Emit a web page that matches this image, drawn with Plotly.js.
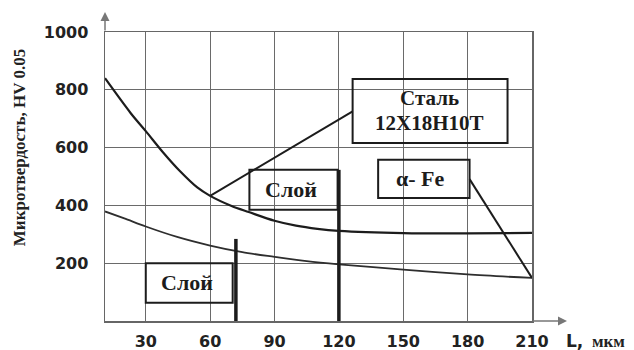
<!DOCTYPE html>
<html>
<head>
<meta charset="utf-8">
<script src="https://cdn.plot.ly/plotly-3.0.1.min.js"></script>
<style>html,body{margin:0;padding:0;background:#fff;}#chart{width:634px;height:350px;}</style>
</head>
<body>
<div id="chart"></div>
<script>
// Distance from surface, µm
const xUpper = [11, 23, 30, 38, 46, 54, 60, 70, 78, 90, 100, 110, 120, 150, 180, 210];
// Microhardness, HV 0.05 – upper curve (layer on steel 12Х18Н10Т)
const hvUpper = [840, 719, 657, 584, 518, 462, 433, 398, 377, 347, 330, 319, 312, 304, 303, 305];
const xLower = [11, 20, 30, 45, 60, 75, 90, 105, 120, 150, 180, 210];
// Microhardness, HV 0.05 – lower curve (layer on α-Fe)
const hvLower = [379, 355, 327, 290, 261, 238, 222, 207, 196, 178, 161, 149];
// Layer thickness markers (x, top of marker)
const layerX = [72, 120];
const layerTop = [284, 523];
// Tick labels
const xTicks = [30, 60, 90, 120, 150, 180, 210];
const yTicks = [200, 400, 600, 800, 1000];
// Leader lines from labels to curves
const leaderSteelX = [60, 126.4];
const leaderSteelY = [433, 725];
const leaderFeX = [180.9, 210];
const leaderFeY = [491, 149];

const ink = '#1c1c1c';
const traces = [
  {x: xUpper, y: hvUpper, mode: 'lines', line: {color: ink, width: 2.2, shape: 'spline', smoothing: 0.9}, hoverinfo: 'skip'},
  {x: xLower, y: hvLower, mode: 'lines', line: {color: '#2e2e2e', width: 1.8, shape: 'spline', smoothing: 0.8}, hoverinfo: 'skip'},
  {x: [layerX[0], layerX[0]], y: [0, layerTop[0]], mode: 'lines', line: {color: ink, width: 3.5}, hoverinfo: 'skip'},
  {x: [layerX[1], layerX[1]], y: [0, layerTop[1]], mode: 'lines', line: {color: ink, width: 3.5}, hoverinfo: 'skip'},
  {x: leaderSteelX, y: leaderSteelY, mode: 'lines', line: {color: ink, width: 2}, hoverinfo: 'skip'},
  {x: leaderFeX, y: leaderFeY, mode: 'lines', line: {color: ink, width: 2}, hoverinfo: 'skip'}
];

const boxFont = {family: 'Liberation Serif', size: 22, color: ink, weight: 'bold'};
const steelFont = {family: 'Liberation Serif', size: 21, color: ink, weight: 'bold'};
const rect = (x0, x1, y0, y1) => ({type: 'rect', xref: 'x', yref: 'y', x0: x0, x1: x1, y0: y0, y1: y1,
  line: {color: ink, width: 2}, fillcolor: 'rgba(0,0,0,0)', layer: 'above'});

const layout = {
  width: 634, height: 350,
  margin: {l: 104.5, r: 102.3, t: 32, b: 28.5},
  paper_bgcolor: '#fff', plot_bgcolor: '#fff',
  showlegend: false,
  xaxis: {
    range: [11, 210], tickvals: xTicks, ticktext: xTicks.map(String),
    showgrid: true, gridcolor: '#6a6a6a', gridwidth: 1.2,
    showline: true, linecolor: '#666', linewidth: 1.5, mirror: true,
    zeroline: false, ticks: '', ticklabelstandoff: 5,
    tickfont: {family: 'DejaVu Sans', size: 16, color: '#222', weight: 'bold'}
  },
  yaxis: {
    range: [0, 1000], tickvals: yTicks, ticktext: yTicks.map(String),
    showgrid: true, gridcolor: '#6a6a6a', gridwidth: 1.2,
    showline: true, linecolor: '#666', linewidth: 1.5, mirror: true,
    zeroline: false, ticks: '', ticklabelstandoff: 12,
    tickfont: {family: 'DejaVu Sans', size: 16, color: '#222', weight: 'bold'}
  },
  shapes: [
    rect(126.4, 198.6, 615.5, 837.7),
    rect(78.3, 119.4, 385, 523),
    rect(30, 70.5, 63, 200),
    rect(138.3, 180.9, 425.6, 558)
  ],
  annotations: [
    {xref: 'paper', yref: 'paper', x: -0.2, y: 0.6, textangle: -90, text: 'Микротвердость, HV 0.05',
      showarrow: false, xanchor: 'center', yanchor: 'middle',
      font: {family: 'Liberation Serif', size: 17, color: '#222', weight: 'bold'}},
    {xref: 'x', yref: 'y', x: 162, y: 772, text: 'Сталь', showarrow: false, font: steelFont},
    {xref: 'x', yref: 'y', x: 162, y: 686, text: '12Х18Н10Т', showarrow: false, font: steelFont},
    {xref: 'x', yref: 'y', x: 97.5, y: 454, text: 'Слой', showarrow: false, font: boxFont},
    {xref: 'x', yref: 'y', x: 49, y: 132, text: 'Слой', showarrow: false, font: boxFont},
    {xref: 'x', yref: 'y', x: 158, y: 494, text: 'α- Fe', showarrow: false, font: boxFont},
    {xref: 'paper', yref: 'paper', x: 1.076, y: -0.07, xanchor: 'left', yanchor: 'middle',
      text: 'L,', showarrow: false,
      font: {family: 'DejaVu Sans', size: 17, color: '#222', weight: 'bold'}},
    {xref: 'paper', yref: 'paper', x: 1.136, y: -0.072, xanchor: 'left', yanchor: 'middle',
      text: 'мкм', showarrow: false,
      font: {family: 'Liberation Serif', size: 17, color: '#222', weight: 'bold'}},
    {xref: 'paper', yref: 'paper', x: 1.082, y: 0, ax: -36, ay: 0, text: '', showarrow: true,
      arrowhead: 2, arrowsize: 1.2, arrowwidth: 1.5, arrowcolor: '#777'},
    {xref: 'paper', yref: 'paper', x: 0, y: 1.069, ax: 0, ay: 20, text: '', showarrow: true,
      arrowhead: 2, arrowsize: 1.2, arrowwidth: 1.5, arrowcolor: '#777'}
  ]
};

Plotly.newPlot('chart', traces, layout, {staticPlot: true, displayModeBar: false});
</script>
</body>
</html>
